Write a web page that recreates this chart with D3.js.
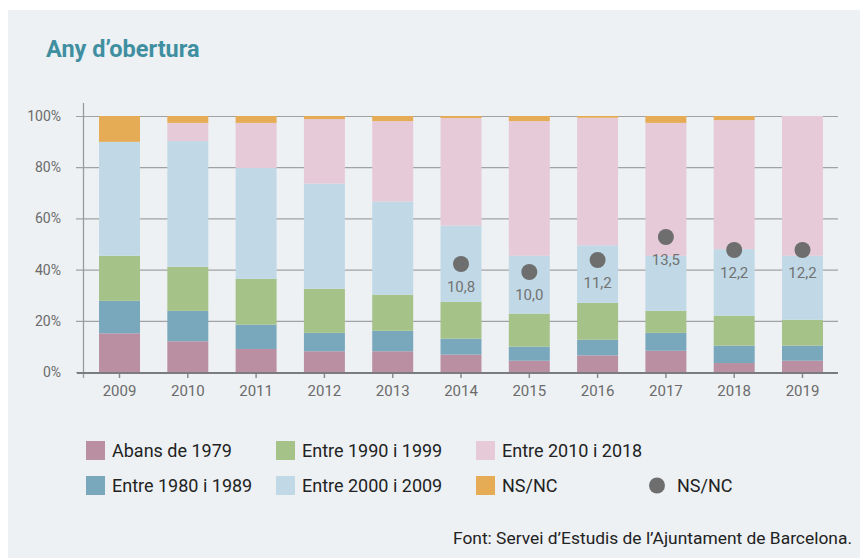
<!DOCTYPE html>
<html>
<head>
<meta charset="utf-8">
<script src="https://cdn.jsdelivr.net/npm/d3@7"></script>
<style>
  body { margin: 0; background: #fff; }
  text { font-family: Roboto, "Noto Sans", sans-serif; }
</style>
</head>
<body>
<svg width="860" height="558"></svg>
<script>
// data
const years = ['2009','2010','2011','2012','2013','2014','2015','2016','2017','2018','2019'];
const abans1979 = [15.1, 12.0, 9.0, 8.1, 8.1, 6.8, 4.4, 6.5, 8.3, 3.5, 4.4];
const entre1980 = [12.7, 11.9, 9.5, 7.2, 8.0, 6.2, 5.5, 6.1, 7.0, 6.8, 5.9];
const entre1990 = [17.6, 17.2, 17.9, 17.2, 14.1, 14.4, 12.9, 14.4, 8.6, 11.7, 10.1];
const entre2000 = [44.5, 49.1, 43.3, 41.1, 36.4, 29.8, 22.6, 22.5, 21.5, 26.0, 25.0];
const entre2010 = [0, 7.1, 17.6, 25.2, 31.4, 42.0, 52.6, 49.8, 51.9, 50.4, 54.6];
const nsnc = [10.1, 2.7, 2.7, 1.2, 2.0, 0.8, 2.0, 0.7, 2.7, 1.6, 0];
const dotYears = ['2014','2015','2016','2017','2018','2019'];
const dotValues = [10.8, 10.0, 11.2, 13.5, 12.2, 12.2];
const yTicks = [0, 20, 40, 60, 80, 100];

const seriesNames = ['Abans de 1979','Entre 1980 i 1989','Entre 1990 i 1999','Entre 2000 i 2009','Entre 2010 i 2018','NS/NC'];
const seriesValues = [abans1979, entre1980, entre1990, entre2000, entre2010, nsnc];
const colors = ['#b98fa1','#79a8bc','#a5c289','#c1d9e6','#e6cad8','#e6ac55'];

const svg = d3.select('svg');
const width = +svg.attr('width');
const height = +svg.attr('height');

// background panel
svg.append('rect')
   .attr('x', 8).attr('y', 10)
   .attr('width', width - 8).attr('height', height - 10)
   .attr('fill', '#edf1f4');

// title
svg.append('text')
   .text('Any d’obertura')
   .attr('x', 46).attr('y', 57)
   .attr('font-size', 23.5).attr('font-weight', 700)
   .attr('fill', '#3f8fa1');

// table for stacking
const table = years.map((y, i) => {
    const row = {year: y};
    seriesNames.forEach((s, k) => row[s] = seriesValues[k][i]);
    return row;
});
const stacked = d3.stack().keys(seriesNames)(table);

//scales
const xScale = d3.scaleBand()
                 .domain(years)
                 .range([84, 838])
                 .paddingInner(0.4)
                 .paddingOuter(0.22);
const yScale = d3.scaleLinear().domain([0, 100]).range([372, 116]);
// the dots sit on their own hidden scale
const dotScale = d3.scaleLinear().domain([0, 25.6]).range([372, 116]);

// gridlines
const grid = svg.append('g')
    .attr('transform', 'translate(76,0)')
    .call(d3.axisLeft(yScale).tickValues(yTicks).tickSize(-(838 - 76)).tickFormat(''));
grid.select('.domain').remove();
grid.selectAll('.tick line').attr('stroke', '#a2a2a2').attr('stroke-width', 1.2);

// y labels
const yAxisG = svg.append('g')
    .attr('transform', 'translate(61,0)')
    .call(d3.axisLeft(yScale).tickValues(yTicks).tickSize(0).tickPadding(0).tickFormat(d => d + '%'));
yAxisG.select('.domain').remove();
yAxisG.selectAll('text').attr('font-size', 14).attr('fill', '#6b6b6b')
      .attr('font-family', 'Roboto, sans-serif');

// vertical axis line
svg.append('line')
   .attr('x1', 83.5).attr('x2', 83.5).attr('y1', 103).attr('y2', 378)
   .attr('stroke', '#9a9a9a').attr('stroke-width', 1.3);

// bars
svg.append('g').selectAll('g')
   .data(stacked)
   .enter().append('g')
   .attr('fill', (d, i) => colors[i])
   .selectAll('rect')
   .data(d => d)
   .enter().append('rect')
   .attr('x', d => xScale(d.data.year))
   .attr('width', xScale.bandwidth())
   .attr('y', d => yScale(d[1]))
   .attr('height', d => yScale(d[0]) - yScale(d[1]));

// x axis
const xAxisG = svg.append('g')
    .attr('transform', 'translate(0,373)')
    .call(d3.axisBottom(xScale).tickSize(5).tickPadding(7.5));
xAxisG.select('.domain').remove();
xAxisG.selectAll('.tick line').attr('stroke', '#8a8a8a').attr('stroke-width', 1.5);
xAxisG.selectAll('text').attr('font-size', 15).attr('fill', '#6b6b6b')
      .attr('font-family', 'Roboto, sans-serif');
svg.append('line')
   .attr('x1', 77).attr('x2', 838).attr('y1', 373).attr('y2', 373)
   .attr('stroke', '#7c7c7c').attr('stroke-width', 2.2);

// NS/NC dots
const fmt = v => d3.format('.1f')(v).replace('.', ',');
const dots = svg.append('g').selectAll('g')
   .data(dotYears.map((y, i) => ({year: y, v: dotValues[i]})))
   .enter().append('g');
dots.append('circle')
    .attr('cx', d => xScale(d.year) + xScale.bandwidth() / 2)
    .attr('cy', d => dotScale(d.v))
    .attr('r', 8)
    .attr('fill', '#6e6e6e');
dots.append('text')
    .text(d => fmt(d.v))
    .attr('x', d => xScale(d.year) + xScale.bandwidth() / 2)
    .attr('y', d => dotScale(d.v) + 28)
    .attr('text-anchor', 'middle')
    .attr('font-size', 15)
    .attr('fill', '#727272');

// legend
const legCols = [86, 276, 476];
const legRows = [441, 476];
const legend = svg.append('g');
seriesNames.forEach((name, i) => {
    const cx = legCols[Math.floor(i / 2)];
    const cy = legRows[i % 2];
    legend.append('rect')
          .attr('x', cx).attr('y', cy)
          .attr('width', 19).attr('height', 19)
          .attr('fill', colors[i]);
    legend.append('text')
          .text(name)
          .attr('x', cx + 26).attr('y', cy + 16)
          .attr('font-size', 18).attr('fill', '#222');
});
legend.append('circle')
      .attr('cx', 657).attr('cy', 485.5).attr('r', 8)
      .attr('fill', '#6e6e6e');
legend.append('text')
      .text('NS/NC')
      .attr('x', 677).attr('y', 492)
      .attr('font-size', 18).attr('fill', '#222');

// source
svg.append('text')
   .text('Font: Servei d’Estudis de l’Ajuntament de Barcelona.')
   .attr('x', 852).attr('y', 544)
   .attr('text-anchor', 'end')
   .attr('font-size', 17.4).attr('fill', '#222');
</script>
</body>
</html>
